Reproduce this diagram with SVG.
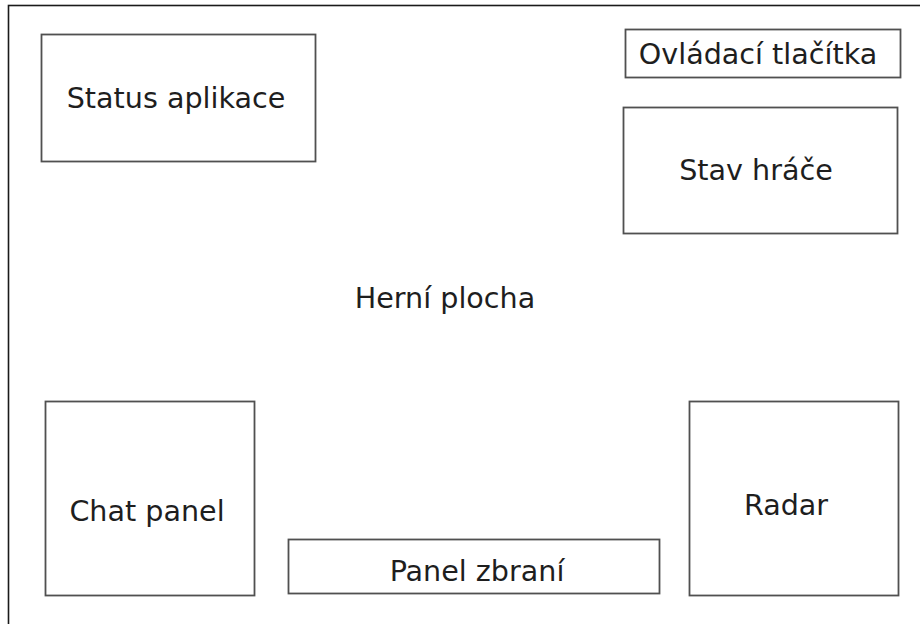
<svg xmlns="http://www.w3.org/2000/svg" width="920" height="624" viewBox="0 0 920 624">
  <style>
    .frame { fill: none; stroke: #1a1a1a; stroke-width: 1.6; }
    .box { fill: #ffffff; stroke: #505050; stroke-width: 1.8; }
    .label { font-family: "DejaVu Sans", "Noto Sans", sans-serif; font-size: 28.6px; fill: #1e1e1e; text-anchor: middle; }
  </style>
  <rect width="920" height="624" fill="#ffffff"/>

  <!-- game area: outer frame runs past the right and bottom edges -->
  <g id="herni-plocha">
    <rect class="frame" x="8.5" y="5.5" width="930" height="640"/>
    <text class="label" x="445" y="308">Herní plocha</text>
  </g>

  <g id="status-aplikace">
    <rect class="box" x="41.5" y="34.5" width="274" height="127"/>
    <text class="label" x="176" y="107.5">Status aplikace</text>
  </g>

  <g id="ovladaci-tlacitka">
    <rect class="box" x="625.5" y="29.5" width="275" height="48"/>
    <text class="label" x="758" y="63.5">Ovládací tlačítka</text>
  </g>

  <g id="stav-hrace">
    <rect class="box" x="623.5" y="107.5" width="274" height="126"/>
    <text class="label" x="756" y="179.5">Stav hráče</text>
  </g>

  <g id="chat-panel">
    <rect class="box" x="45.5" y="401.5" width="209" height="194"/>
    <text class="label" x="147" y="520.5">Chat panel</text>
  </g>

  <g id="panel-zbrani">
    <rect class="box" x="288.5" y="539.5" width="371" height="54"/>
    <text class="label" x="477" y="580.5">Panel zbraní</text>
  </g>

  <g id="radar">
    <rect class="box" x="689.5" y="401.5" width="209" height="194"/>
    <text class="label" x="786" y="514.5">Radar</text>
  </g>

  <g id="connectors"/>
</svg>
